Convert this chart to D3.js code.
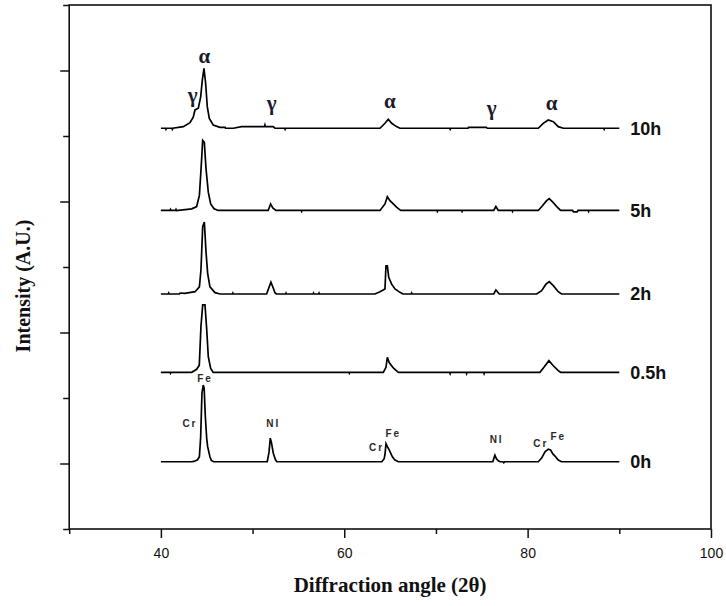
<!DOCTYPE html>
<html>
<head>
<meta charset="utf-8">
<script src="https://cdn.jsdelivr.net/npm/d3@7/dist/d3.min.js"></script>
<style>
  html, body { margin: 0; padding: 0; background: #fff; }
  svg { display: block; }
</style>
</head>
<body>
<svg id="chart" width="726" height="606"></svg>
<script>
// Milling time of each XRD pattern (bottom to top)
const millingTimes = ["0h", "0.5h", "2h", "5h", "10h"];
// Vertical offset (A.U.) applied to each pattern
const patternOffsets = [102.7, 239.2, 358.8, 486.3, 611.8];

// Each pattern: [2θ, intensity above its own baseline]
const pattern0h = [
  [40,0],[43.3,0],[43.6,0.5],[44.0,3],[44.2,7.6],[44.34,38],[44.48,105],[44.62,117],[44.72,112],[44.84,71],[45.0,35],[45.1,23],[45.35,7.6],[45.5,2],[45.75,0],
  [51.6,0],[51.8,15],[51.93,36],[52.05,30],[52.26,13],[52.5,3],[52.65,0],
  [64.1,0],[64.35,4.6],[64.44,10.7],[64.55,27.5],[64.7,23],[64.9,18],[65.25,7.6],[65.5,3],[65.9,0],
  [76.2,0],[76.43,10],[76.6,4.6],[76.8,1.5],[77.0,0],[77.3,0],[77.4,-1.5],[77.5,0],
  [81.16,0],[81.53,5.6],[81.89,15],[82.05,17],[82.25,19],[82.5,18],[82.75,12],[82.98,8.7],[83.34,2.6],[83.7,0],[90,0]
];
const pattern05h = [
  [40,0],[41,0],[41.05,-1.5],[41.1,0],[43.36,0],[43.9,4.6],[44.19,11],[44.37,70],[44.56,103],[44.81,103],[45.0,65],[45.17,24],[45.43,6],[45.7,0],
  [60.5,0],[60.55,-1.5],[60.6,0],
  [64.26,0],[64.55,7.6],[64.7,23],[64.9,15],[65.35,6.6],[65.9,0],
  [71.5,0],[71.55,-2],[71.6,0],[73.3,0],[73.35,-2],[73.4,0],[75.2,0],[75.25,-2],[75.3,0],
  [81.34,0],[81.78,7.6],[82.32,17.8],[82.8,10],[83.34,2.5],[83.6,0],[90,0]
];
const pattern2h = [
  [40,0],[40.8,0],[40.85,1.5],[40.9,0],[42.0,0],[42.1,1.5],[42.6,1],[43.73,3.5],[44.2,11],[44.37,36.6],[44.56,103],[44.74,110],[44.92,64.6],[45.1,31.6],[45.35,11],[45.9,2],[46.45,0],
  [47.8,0],[47.85,1.5],[47.9,0],
  [51.53,0],[51.82,11],[52.0,18],[52.2,11],[52.44,2],[52.6,0],
  [53.6,0],[53.65,1.5],[53.7,0],[56.6,0],[56.65,1.5],[56.7,0],[57.2,0],[57.25,1.5],[57.3,0],
  [63.35,0],[63.9,3.5],[64.44,7.6],[64.55,43],[64.7,43],[64.85,25.5],[65.17,15],[65.53,7.6],[66.07,2.5],[66.4,0],
  [67.3,0],[67.35,1.5],[67.4,0],
  [76.3,0],[76.54,6],[76.9,0],
  [80.98,0],[81.53,5],[82.0,15],[82.36,19],[82.8,12.7],[83.34,3.5],[83.7,0],[90,0]
];
const pattern5h = [
  [40,0],[41.0,0],[41.05,1.5],[41.1,0],[41.6,0],[41.65,1.5],[41.7,0],[43.36,2.5],[43.9,6],[44.2,23],[44.37,61],[44.56,107],[44.74,104],[44.92,64],[45.17,28],[45.43,10],[45.8,2.5],[46.26,0],
  [51.7,0],[51.97,10],[52.2,4],[52.55,0],
  [55.3,0],[55.35,-1.5],[55.4,0],
  [63.9,0],[64.44,10],[64.7,21],[64.98,15],[65.35,10],[65.7,5],[66.15,0],
  [70.1,0],[70.15,-1.5],[70.2,0],[72.8,0],[72.85,-1.5],[72.9,0],
  [76.3,0],[76.54,6],[76.8,0],
  [78.3,0],[78.35,-1.5],[78.4,0],
  [81.16,0],[81.64,7.6],[82.07,15],[82.36,18],[82.8,12],[83.23,5],[83.6,0],
  [84.9,0],[85.0,-2],[85.4,-2],[85.5,0],[86.6,0],[86.65,-1.5],[86.7,0],[90,0]
];
const pattern10h = [
  [40,0],[40.5,0],[40.55,-1.5],[40.6,0],[41.2,0],[41.25,-1.5],[41.3,0],[42.45,2.5],[43.17,8.5],[43.53,16.8],[43.72,28],[44.08,30.5],[44.34,48],[44.52,74],[44.7,91.6],[44.88,68.7],[45.06,33],[45.28,15],[45.71,5],[46.44,1.5],[47.0,1.5],[47.05,0],
  [47.9,0],[48.8,2.5],[49.7,2.5],[51.3,2.5],[51.35,5],[51.4,2.5],[52.26,2.5],[52.44,0],
  [53.5,0],[53.55,-1.5],[53.6,0],
  [63.9,0],[64.44,7.6],[64.8,13.7],[65.17,7.6],[65.7,2.5],[66.07,0],
  [71.5,0],[71.55,-1.5],[71.6,0],[73.5,0],[73.55,1.5],[75.5,1.5],[75.6,0],
  [81.16,0],[81.7,7.6],[82.25,12.7],[82.8,10],[83.34,2.5],[83.9,0],
  [88.3,0],[88.35,-1.5],[88.4,0],[90,0]
];
const patterns = [pattern0h, pattern05h, pattern2h, pattern5h, pattern10h];

// Phase labels on the 10h pattern: [symbol, 2θ, intensity]
const phaseLabels = [
  ["α", 44.73, 711.5], ["γ", 43.47, 652], ["γ", 52.08, 639.7],
  ["α", 64.98, 642.7], ["γ", 76.07, 632], ["α", 82.62, 639.7]
];
// Element labels on the 0h pattern: [element, 2θ, intensity]
const elementLabels = [
  ["Fe", 44.81, 223.8], ["Cr", 43.17, 155], ["NI", 52.26, 155],
  ["Fe", 65.34, 141.2], ["Cr", 63.53, 119.8], ["NI", 76.62, 131.3],
  ["Cr", 81.44, 125.2], ["Fe", 83.34, 135.9]
];

// Axis ticks
const angleTicks = [30, 40, 50, 60, 70, 80, 90, 100];
const angleLabelTicks = [40, 60, 80, 100];
const intensityTicks = [0, 100, 200, 300, 400, 500, 600, 700, 800];
const intensityMajorTicks = [100, 300, 500, 700];

const svg = d3.select("#chart");
const plot = { left: 69.2, right: 711, top: 5, bottom: 529 };

const x = d3.scaleLinear().domain([30, 100]).range([plot.left, plot.right]);
const y = d3.scaleLinear().domain([0, 800]).range([plot.bottom, plot.top]);

// Frame
svg.append("rect")
  .attr("x", plot.left).attr("y", plot.top)
  .attr("width", plot.right - plot.left).attr("height", plot.bottom - plot.top)
  .attr("fill", "none").attr("stroke", "#111").attr("stroke-width", 1.6);

// Bottom axis: minor and major ticks
const gx = svg.append("g").attr("transform", `translate(0,${plot.bottom})`);
gx.call(d3.axisBottom(x).tickValues(angleTicks.filter(t => !angleLabelTicks.includes(t))).tickSize(5).tickFormat(""));
const gxMajor = svg.append("g").attr("transform", `translate(0,${plot.bottom})`);
gxMajor.call(d3.axisBottom(x).tickValues(angleLabelTicks).tickSize(9).tickPadding(10).tickFormat(d3.format("d")));
[gx, gxMajor].forEach(g => {
  g.select(".domain").remove();
  g.selectAll(".tick line").attr("stroke", "#111").attr("stroke-width", 1.5);
});
gxMajor.selectAll(".tick text")
  .attr("font-family", "'Liberation Sans', Arial, sans-serif")
  .attr("font-size", 14).attr("fill", "#111");

// Left axis: minor and major ticks
const gy = svg.append("g").attr("transform", `translate(${plot.left},0)`);
gy.call(d3.axisLeft(y).tickValues(intensityTicks.filter(t => !intensityMajorTicks.includes(t))).tickSize(6).tickFormat(""));
const gyMajor = svg.append("g").attr("transform", `translate(${plot.left},0)`);
gyMajor.call(d3.axisLeft(y).tickValues(intensityMajorTicks).tickSize(9).tickFormat(""));
[gy, gyMajor].forEach(g => {
  g.select(".domain").remove();
  g.selectAll(".tick line").attr("stroke", "#111").attr("stroke-width", 1.5);
});

// Patterns
const line = d3.line()
  .x(d => x(d[0]))
  .y(d => y(d[1]));

patterns.forEach((p, i) => {
  const off = patternOffsets[i];
  svg.append("path")
    .datum(p.map(d => [d[0], d[1] + off]))
    .attr("d", line)
    .attr("fill", "none")
    .attr("stroke", "#000")
    .attr("stroke-width", 1.7)
    .attr("stroke-linejoin", "miter");
  svg.append("text")
    .attr("x", x(91.2))
    .attr("y", y(off))
    .attr("dy", "0.36em")
    .attr("font-family", "'Liberation Sans', Arial, sans-serif")
    .attr("font-weight", "bold")
    .attr("font-size", 18)
    .attr("fill", "#111")
    .text(millingTimes[i]);
});

// Phase labels
svg.selectAll("text.phase").data(phaseLabels).join("text")
  .attr("class", "phase")
  .attr("x", d => x(d[1]))
  .attr("y", d => y(d[2]))
  .attr("text-anchor", "middle")
  .attr("font-family", "'Liberation Serif', 'Times New Roman', serif")
  .attr("font-weight", "bold")
  .attr("font-size", 21)
  .attr("fill", "#1a1a2a")
  .text(d => d[0]);

// Element labels
svg.selectAll("text.element").data(elementLabels).join("text")
  .attr("class", "element")
  .attr("x", d => x(d[1]))
  .attr("y", d => y(d[2]))
  .attr("text-anchor", "middle")
  .attr("font-family", "'Liberation Sans', Arial, sans-serif")
  .attr("font-weight", "bold")
  .attr("font-size", 10)
  .attr("letter-spacing", 2)
  .attr("fill", "#2a2a2a")
  .text(d => d[0]);

// Axis titles
svg.append("text")
  .attr("x", (plot.left + plot.right) / 2)
  .attr("y", 592)
  .attr("text-anchor", "middle")
  .attr("font-family", "'Liberation Serif', 'Times New Roman', serif")
  .attr("font-weight", "bold")
  .attr("font-size", 21)
  .attr("fill", "#111")
  .text("Diffraction angle (2θ)");

svg.append("text")
  .attr("transform", "translate(30,286) rotate(-90)")
  .attr("text-anchor", "middle")
  .attr("font-family", "'Liberation Serif', 'Times New Roman', serif")
  .attr("font-weight", "bold")
  .attr("font-size", 20)
  .attr("fill", "#111")
  .text("Intensity (A.U.)");
</script>
</body>
</html>
